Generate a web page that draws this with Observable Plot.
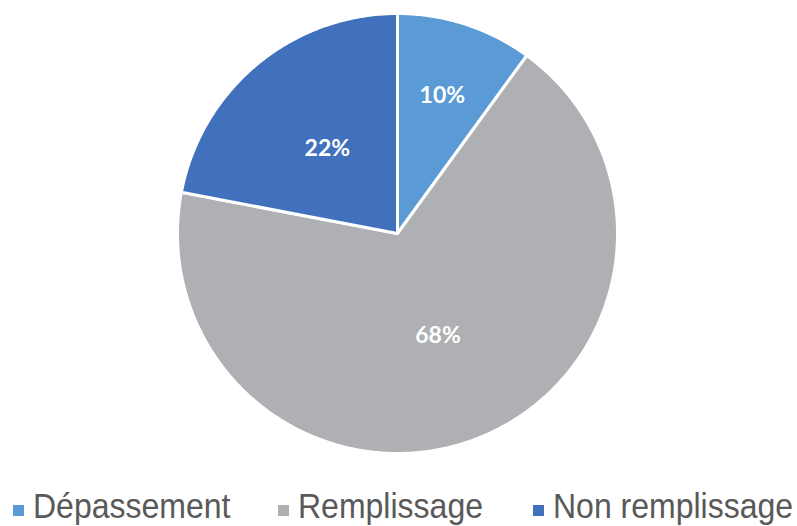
<!DOCTYPE html>
<html>
<head>
<meta charset="utf-8">
<script src="https://cdn.jsdelivr.net/npm/d3@7"></script>
<script src="https://cdn.jsdelivr.net/npm/@observablehq/plot@0.6"></script>
<style>
  html, body { margin: 0; padding: 0; background: #fff; }
  #wrap { position: relative; width: 797px; height: 526px; }
  #legend { position: absolute; left: 0; top: 486px; width: 797px; height: 40px; font-family: "Liberation Sans", Arial, sans-serif; color: #595959; }
  .item { position: absolute; top: 0; white-space: nowrap; }
  .sw { position: absolute; top: 19px; width: 11px; height: 11px; }
  .lab { position: absolute; top: 0; font-size: 32px; line-height: 40px; transform-origin: 0 50%; transform: scaleY(1.08); }
</style>
</head>
<body>
<div id="wrap">
  <div id="chart"></div>
  <div id="legend"></div>
</div>
<script>
const categories = ["Dépassement", "Remplissage", "Non remplissage"];
const values = [10, 68, 22];
const colors = ["#5A9BD5", "#AFB0B3", "#4170BC"];

const R = 220;
const W = 797, H = 470;
const cx = 397, cy = 233;

const total = d3.sum(values);
const pie = d3.pie().sort(null).value(d => d.value)(
  categories.map((c, i) => ({category: c, value: values[i]}))
);

// Slice outlines built from the pie angles (arc drawn as a polyline)
const outline = [];
for (const s of pie) {
  const cat = s.data.category;
  outline.push({category: cat, x: 0, y: 0});
  const n = Math.max(2, Math.ceil((s.endAngle - s.startAngle) / 0.01));
  for (let k = 0; k <= n; k++) {
    const a = s.startAngle + (s.endAngle - s.startAngle) * k / n;
    outline.push({category: cat, x: R * Math.sin(a), y: R * Math.cos(a)});
  }
  outline.push({category: cat, x: 0, y: 0});
}

const labels = pie.map(s => {
  const a = (s.startAngle + s.endAngle) / 2;
  const frac = s.data.value / total;
  const r = R * (frac < 0.15 ? 0.66 : 0.5);
  return {text: Math.round(frac * 100) + "%", x: r * Math.sin(a), y: r * Math.cos(a)};
});

const chart = Plot.plot({
  width: W,
  height: H,
  margin: 0,
  x: {domain: [-cx, W - cx], range: [0, W], axis: null},
  y: {domain: [cy - H, cy], range: [H, 0], axis: null},
  color: {domain: categories, range: colors},
  style: {background: "white"},
  marks: [
    Plot.line(outline, {x: "x", y: "y", z: "category", fill: "category", stroke: "white", strokeWidth: 3, strokeLinejoin: "round", curve: "linear"}),
    Plot.text(labels, {x: "x", y: "y", text: "text", fill: "white", fontSize: 23, fontWeight: "bold", fontFamily: "Lato, 'Open Sans', sans-serif"})
  ]
});
document.getElementById("chart").appendChild(chart);

const legendPos = [13, 278, 533];
const legend = document.getElementById("legend");
categories.forEach((c, i) => {
  const item = document.createElement("div");
  item.className = "item";
  item.style.left = legendPos[i] + "px";
  const sw = document.createElement("div");
  sw.className = "sw";
  sw.style.left = "0px";
  sw.style.background = colors[i];
  const lab = document.createElement("div");
  lab.className = "lab";
  lab.style.left = "20px";
  lab.textContent = c;
  item.appendChild(sw);
  item.appendChild(lab);
  legend.appendChild(item);
});
</script>
</body>
</html>
